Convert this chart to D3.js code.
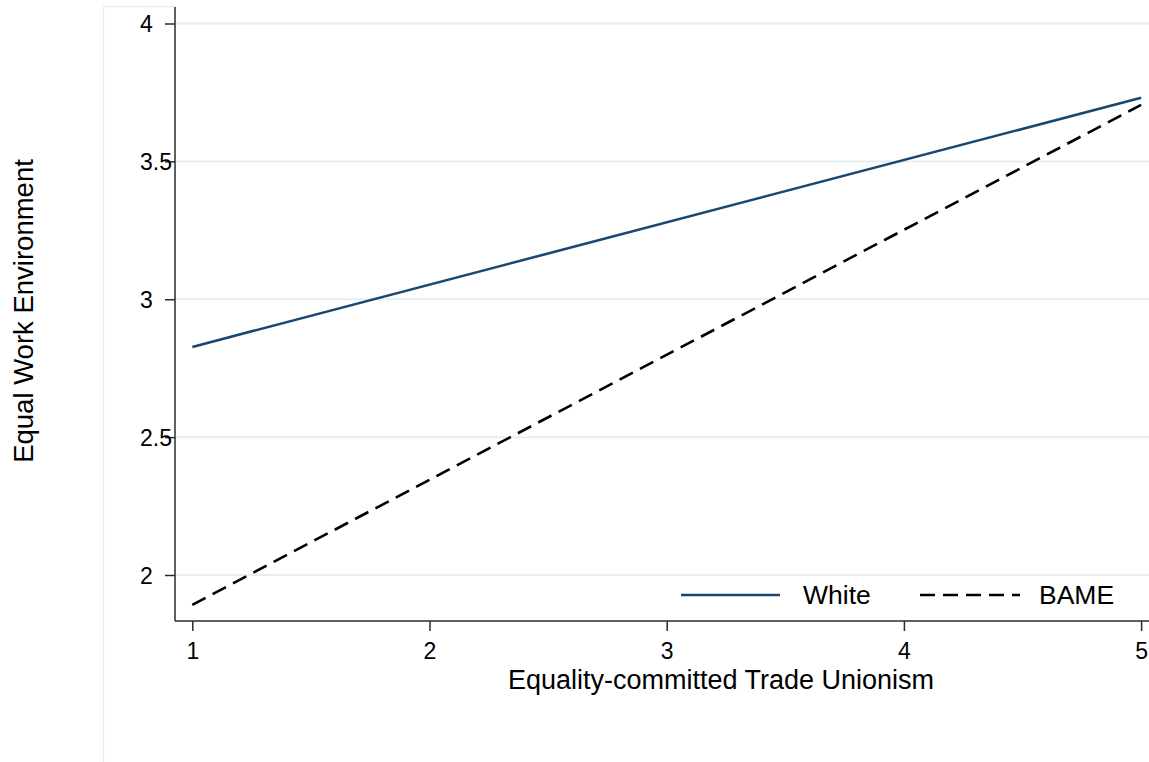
<!DOCTYPE html>
<html>
<head>
<meta charset="utf-8">
<script src="https://cdn.jsdelivr.net/npm/d3@7"></script>
<style>
  html, body { margin: 0; padding: 0; background: #fff; }
  svg { display: block; }
  text { font-family: "Liberation Sans", Arial, sans-serif; fill: #000; }
</style>
</head>
<body>
<svg id="chart" width="1149" height="762"></svg>
<script>
// Predicted values of the equal work environment score at each level of
// equality-committed trade unionism, for two ethnic groups.
const xValues = [1, 5];
const whiteValues = [2.827, 3.731];
const bameValues = [1.892, 3.705];
const seriesNames = ["White", "BAME"];
const xTicks = [1, 2, 3, 4, 5];
const yTicks = [2, 2.5, 3, 3.5, 4];
const yTickLabels = ["2", "2.5", "3", "3.5", "4"];
const xTitle = "Equality-committed Trade Unionism";
const yTitle = "Equal Work Environment";

const svg = d3.select("#chart");
const W = 1149, H = 762;

const axisLeft = 175, axisBottom = 621, axisTop = 7;
const x = d3.scaleLinear().domain([1, 5]).range([192.3, 1141.1]);
const y = d3.scaleLinear().domain([2, 4]).range([575, 23.5]);

const gridColor = "#e6eef1";
const axisColor = "#2b2b2b";

// outer graph region frame (left and top edges)
svg.append("line").attr("x1", 103.5).attr("x2", 103.5).attr("y1", 6.5).attr("y2", H)
  .attr("stroke", gridColor).attr("stroke-width", 1.5);
svg.append("line").attr("x1", 103.5).attr("x2", axisLeft).attr("y1", 6.5).attr("y2", 6.5)
  .attr("stroke", gridColor).attr("stroke-width", 1.5);

// horizontal gridlines
svg.append("g").selectAll("line").data(yTicks).join("line")
  .attr("x1", axisLeft).attr("x2", W)
  .attr("y1", d => y(d)).attr("y2", d => y(d))
  .attr("stroke", gridColor).attr("stroke-width", 2);

// y axis
const yAxis = d3.axisLeft(y).tickValues(yTicks)
  .tickFormat((d, i) => yTickLabels[i]).tickSize(10).tickSizeOuter(0);
const gy = svg.append("g").attr("transform", `translate(${axisLeft},0)`).call(yAxis);
gy.select(".domain").remove();
gy.selectAll(".tick line").attr("stroke", axisColor).attr("stroke-width", 1.5);
gy.selectAll(".tick text")
  .attr("x", -35).attr("text-anchor", "start").attr("dy", "0.35em")
  .style("font-size", "23px").style("font-family", "Liberation Sans, Arial, sans-serif").attr("fill", "#000");
svg.append("line").attr("x1", axisLeft).attr("x2", axisLeft).attr("y1", axisTop).attr("y2", axisBottom)
  .attr("stroke", axisColor).attr("stroke-width", 1.5);

// x axis
const xAxis = d3.axisBottom(x).tickValues(xTicks).tickFormat(d3.format("d"))
  .tickSize(10).tickSizeOuter(0);
const gx = svg.append("g").attr("transform", `translate(0,${axisBottom})`).call(xAxis);
gx.select(".domain").remove();
gx.selectAll(".tick line").attr("stroke", axisColor).attr("stroke-width", 1.5);
gx.selectAll(".tick text").attr("y", 22)
  .style("font-size", "23px").style("font-family", "Liberation Sans, Arial, sans-serif").attr("fill", "#000");
svg.append("line").attr("x1", axisLeft).attr("x2", W).attr("y1", axisBottom).attr("y2", axisBottom)
  .attr("stroke", axisColor).attr("stroke-width", 1.5);

// axis titles
svg.append("text").attr("x", 721).attr("y", 680).attr("dy", "0.35em")
  .attr("text-anchor", "middle").style("font-size", "27px").text(xTitle);
svg.append("text").attr("transform", "translate(23,311) rotate(-90)").attr("dy", "0.35em")
  .attr("text-anchor", "middle").style("font-size", "27.5px").text(yTitle);

// prediction lines
const line = d3.line().x(d => x(d[0])).y(d => y(d[1]));
const series = [
  { name: seriesNames[0], values: whiteValues, color: "#1a476f", dash: null },
  { name: seriesNames[1], values: bameValues, color: "#000000", dash: "15,8" }
];
series.forEach(s => {
  svg.append("path")
    .datum(xValues.map((v, i) => [v, s.values[i]]))
    .attr("d", line)
    .attr("fill", "none")
    .attr("stroke", s.color)
    .attr("stroke-width", 2.6)
    .attr("stroke-dasharray", s.dash);
});

// legend
const legendY = 595;
const legendItems = [
  { s: series[0], x1: 681, x2: 780, tx: 803 },
  { s: series[1], x1: 920, x2: 1020, tx: 1039 }
];
legendItems.forEach(it => {
  svg.append("line").attr("x1", it.x1).attr("x2", it.x2).attr("y1", legendY).attr("y2", legendY)
    .attr("stroke", it.s.color).attr("stroke-width", 2.6).attr("stroke-dasharray", it.s.dash);
  svg.append("text").attr("x", it.tx).attr("y", legendY).attr("dy", "0.35em")
    .style("font-size", "26.5px").text(it.s.name);
});
</script>
</body>
</html>
